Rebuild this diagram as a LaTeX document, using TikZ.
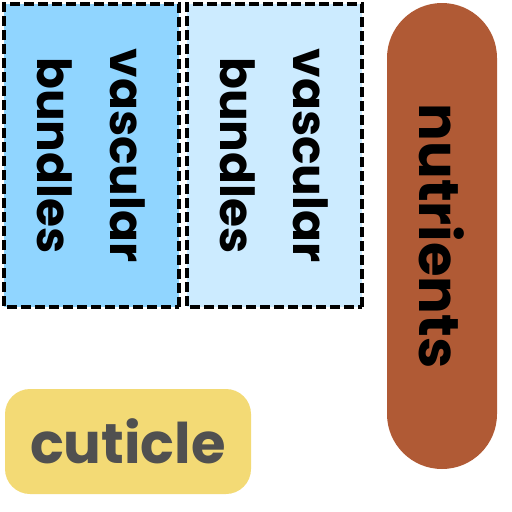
\documentclass[tikz,border=0pt]{standalone}
\usepackage{fontspec}
\setmainfont{Poppins}
\usepackage{tikz}

\definecolor{bundleA}{RGB}{144,213,255}
\definecolor{bundleB}{RGB}{204,235,255}
\definecolor{rust}{RGB}{176,90,53}
\definecolor{wax}{RGB}{243,218,117}
\definecolor{ink}{RGB}{80,80,80}

\begin{document}
\begin{tikzpicture}[
		x=1pt, y=-1pt,
		bundle/.style={rectangle, draw=black, line width=3.5pt, dash pattern=on 10pt off 4pt,
			rotate=-90, minimum width=303pt, minimum height=175pt, inner sep=0pt,
			align=center, font=\bfseries\fontsize{47}{73}\selectfont},
		pill/.style={rectangle, fill=rust, rounded corners=55pt, rotate=-90,
			minimum width=466pt, minimum height=110pt, inner sep=0pt,
			font=\bfseries\fontsize{56}{66}\selectfont},
		tag/.style={rectangle, fill=wax, rounded corners=25pt,
			minimum width=246pt, minimum height=105pt, inner sep=0pt,
			text=ink, font=\bfseries\fontsize{56}{66}\selectfont}
	]
  \useasboundingbox (0,0) rectangle (512,512);

  \node (vb1) [bundle, fill=bundleA] at (91.5, 155.5) {vascular\\bundles};
  \node (vb2) [bundle, fill=bundleB] at (274.5, 155.5) {vascular\\bundles};
  \node (nut) [pill] at (442, 236) {nutrients};
  \node (cut) [tag] at (128, 441.5) {cuticle};
\end{tikzpicture}
\end{document}
